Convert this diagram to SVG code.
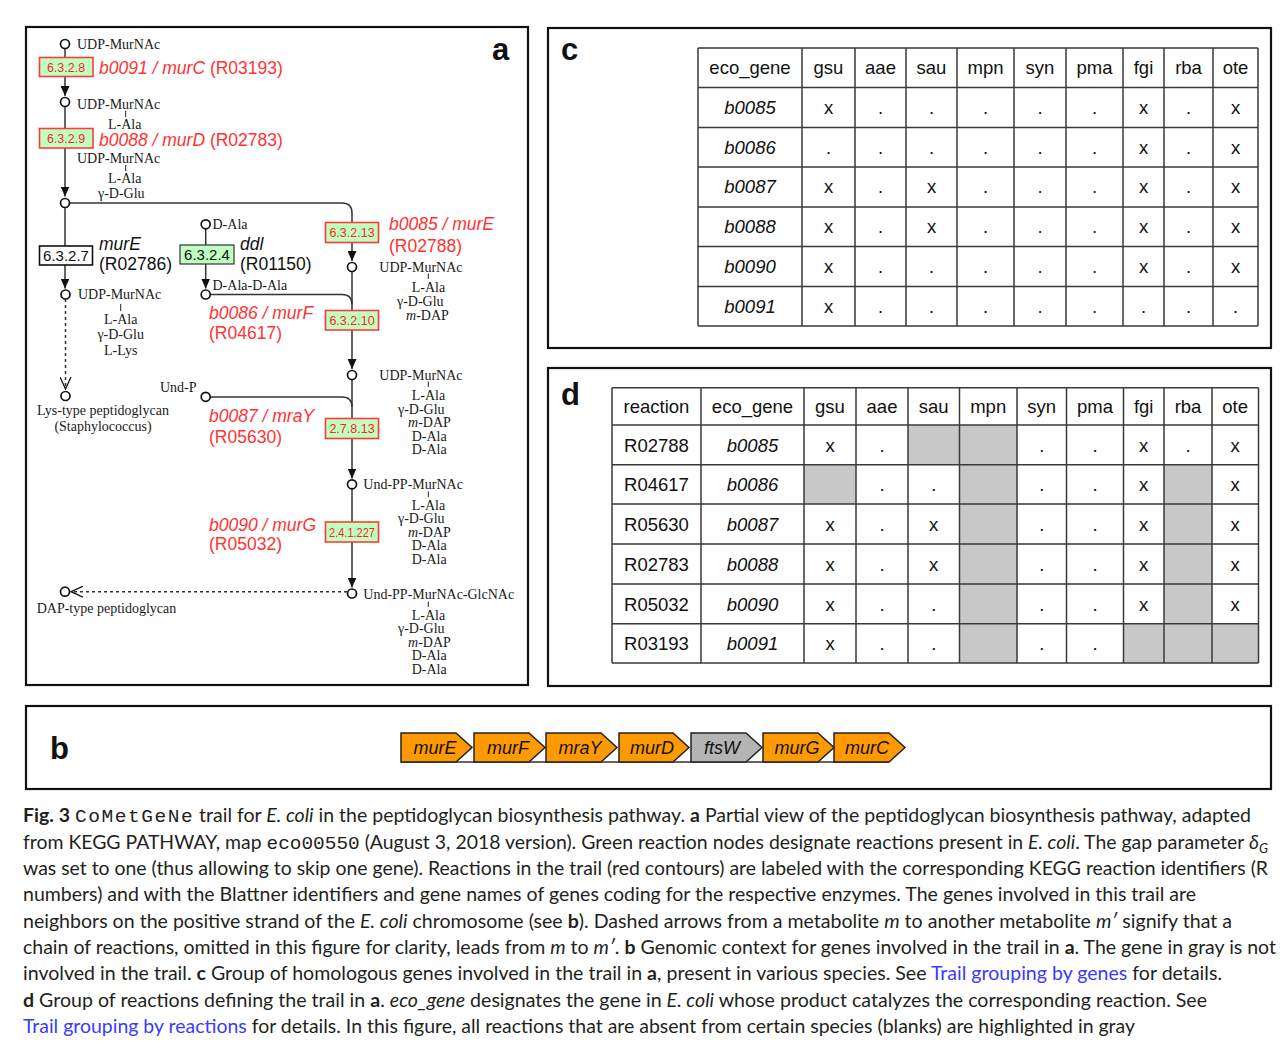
<svg xmlns="http://www.w3.org/2000/svg" width="1287" height="1050" viewBox="0 0 1287 1050">
<style>
.frame{fill:#fff;stroke:#111;stroke-width:2.2}
.met{font-family:"Liberation Serif","Times New Roman",serif;font-size:14px;fill:#1a1a1a}
.mc{text-anchor:middle}
.lbl{font-family:"Liberation Sans",Arial,sans-serif;font-size:17.5px}
.red{fill:#ff3333}
.blk{fill:#111}
.it{font-style:italic}
.ec{font-family:"Liberation Sans",Arial,sans-serif;font-size:12.5px;text-anchor:middle;fill:#ff2222}
.ecb{font-family:"Liberation Sans",Arial,sans-serif;font-size:15px;text-anchor:middle;fill:#111}
.rbox{fill:#bfffbf;stroke:#ff3b3b;stroke-width:1.6}
.gbox{fill:#bfffbf;stroke:#333;stroke-width:1.2}
.wbox{fill:#fff;stroke:#111;stroke-width:1.6}
.ln{fill:none;stroke:#333;stroke-width:1.5}
.dash{stroke-dasharray:3 3}
.circ{fill:#fff;stroke:#111;stroke-width:1.7}
.tick{stroke:#222;stroke-width:1}
.pl{font-family:"Liberation Sans",Arial,sans-serif;font-weight:bold;font-size:31px;fill:#111}
.tb{font-family:"Liberation Sans",Arial,sans-serif;font-size:18.5px;fill:#111;text-anchor:middle}
.grid{fill:none;stroke:#3a3a3a;stroke-width:1.5}
.gray{fill:#c8c8c8}
.gene{stroke:#222;stroke-width:1.5}
.gt{font-family:"Liberation Sans",Arial,sans-serif;font-size:18px;font-style:italic;fill:#111;text-anchor:middle}
.cap{font-family:Lato,"Open Sans",sans-serif;font-size:19px;fill:#231f20}
.mono{font-family:"Liberation Mono","Courier New",monospace}
.b{font-weight:bold}
.link{fill:#3a3aff}
</style>
<defs>
<marker id="fa" viewBox="0 0 10 9" refX="10" refY="4.5" markerWidth="10" markerHeight="9" markerUnits="userSpaceOnUse" orient="auto"><path d="M0,0 L10,4.5 L0,9 Z" fill="#111"/></marker>
<marker id="oa" viewBox="0 0 13 12" refX="12" refY="6" markerWidth="13" markerHeight="12" markerUnits="userSpaceOnUse" orient="auto"><path d="M0,0.5 L12,6 L0,11.5" fill="none" stroke="#111" stroke-width="1.3"/></marker>
</defs>
<rect width="1287" height="1050" fill="#fff"/>

<!-- panel frames -->
<rect class="frame" x="26" y="27" width="502" height="658"/>
<rect class="frame" x="548" y="28" width="723" height="320"/>
<rect class="frame" x="548" y="368" width="723" height="318"/>
<rect class="frame" x="26" y="706" width="1245" height="83"/>
<text class="pl" x="492" y="60">a</text>
<text class="pl" x="561" y="60">c</text>
<text class="pl" x="561" y="405">d</text>
<text class="pl" x="50" y="759">b</text>

<!-- connectors of panel a -->
<g id="connectors">
<path class="ln" d="M65,48.5 V96" marker-end="url(#fa)"/>
<path class="ln" d="M65,106.5 V196.5" marker-end="url(#fa)"/>
<path class="ln" d="M65,207.5 V288.5" marker-end="url(#fa)"/>
<path class="ln dash" d="M65.5,299 V389" marker-end="url(#oa)"/>
<path class="ln" d="M69.5,203 H342 Q352,203 352,213 V261" marker-end="url(#fa)"/>
<path class="ln" d="M205.7,229 V288.5" marker-end="url(#fa)"/>
<path class="ln" d="M210.2,294.5 H342 Q352,294.5 352,304.5"/>
<path class="ln" d="M352,271.5 V369" marker-end="url(#fa)"/>
<path class="ln" d="M210.2,397 H342 Q352,397 352,407"/>
<path class="ln" d="M352,379.5 V478.5" marker-end="url(#fa)"/>
<path class="ln" d="M352,489 V587.5" marker-end="url(#fa)"/>
<path class="ln dash" d="M347,591.7 H71" marker-end="url(#oa)"/>
</g>

<!-- reaction nodes -->
<g id="r-R03193">
<rect class="rbox" x="39.5" y="57.5" width="53.5" height="19"/>
<text class="ec" x="66" y="72">6.3.2.8</text>
<text class="lbl red" x="99" y="73.5"><tspan class="it">b0091 / murC</tspan> (R03193)</text>
</g>
<g id="r-R02783">
<rect class="rbox" x="39.5" y="128.5" width="53.5" height="19.5"/>
<text class="ec" x="66" y="143">6.3.2.9</text>
<text class="lbl red" x="99" y="146"><tspan class="it">b0088 / murD</tspan> (R02783)</text>
</g>
<g id="r-R02786">
<rect class="wbox" x="39.5" y="246" width="53" height="19"/>
<text class="ecb" x="66" y="261">6.3.2.7</text>
<text class="lbl blk it" x="99" y="250">murE</text>
<text class="lbl blk" x="99" y="270">(R02786)</text>
</g>
<g id="r-R01150">
<rect class="gbox" x="180" y="245" width="54" height="19"/>
<text class="ecb" x="207" y="260">6.3.2.4</text>
<text class="lbl blk it" x="240" y="250">ddl</text>
<text class="lbl blk" x="240" y="270">(R01150)</text>
</g>
<g id="r-R02788">
<rect class="rbox" x="325.5" y="222.5" width="53" height="20"/>
<text class="ec" x="352" y="237">6.3.2.13</text>
<text class="lbl red it" x="389" y="230">b0085 / murE</text>
<text class="lbl red" x="389" y="251.5">(R02788)</text>
</g>
<g id="r-R04617">
<rect class="rbox" x="325.5" y="310.5" width="53" height="19.5"/>
<text class="ec" x="352" y="325">6.3.2.10</text>
<text class="lbl red it" x="209" y="318.5">b0086 / murF</text>
<text class="lbl red" x="209" y="338.5">(R04617)</text>
</g>
<g id="r-R05630">
<rect class="rbox" x="325.5" y="418.5" width="53" height="20"/>
<text class="ec" x="352" y="433">2.7.8.13</text>
<text class="lbl red it" x="209" y="422">b0087 / mraY</text>
<text class="lbl red" x="209" y="443">(R05630)</text>
</g>
<g id="r-R05032">
<rect class="rbox" x="325.5" y="522" width="53" height="20"/>
<text class="ec" x="352" y="537" textLength="46" lengthAdjust="spacingAndGlyphs">2.4.1.227</text>
<text class="lbl red it" x="209" y="530.5">b0090 / murG</text>
<text class="lbl red" x="209" y="550">(R05032)</text>
</g>

<!-- metabolite nodes -->
<g id="m-udp-murnac">
<circle class="circ" cx="65" cy="44" r="4.5"/>
<text class="met" x="77" y="49">UDP-MurNAc</text>
</g>
<g id="m-udp-murnac-ala">
<circle class="circ" cx="65" cy="102" r="4.5"/>
<text class="met" x="77" y="109">UDP-MurNAc</text>
<line class="tick" x1="125.7" y1="111" x2="125.7" y2="117"/>
<text class="met" x="108" y="129">L-Ala</text>
</g>
<g id="m-udp-murnac-ala-glu">
<circle class="circ" cx="65" cy="203" r="4.5"/>
<text class="met" x="77" y="162.5">UDP-MurNAc</text>
<line class="tick" x1="125.7" y1="165" x2="125.7" y2="171"/>
<text class="met" x="108" y="183">L-Ala</text>
<text class="met" x="98" y="197.5">γ-D-Glu</text>
</g>
<g id="m-udp-murnac-lys">
<circle class="circ" cx="65.5" cy="294.5" r="4.5"/>
<text class="met" x="78" y="299">UDP-MurNAc</text>
<line class="tick" x1="120.7" y1="304" x2="120.7" y2="311"/>
<text class="met mc" x="120.7" y="323.5">L-Ala</text>
<text class="met mc" x="120.7" y="339">γ-D-Glu</text>
<text class="met mc" x="120.7" y="355">L-Lys</text>
</g>
<g id="m-lys-pg">
<circle class="circ" cx="65.5" cy="396" r="4.5"/>
<text class="met mc" x="103" y="415">Lys-type peptidoglycan</text>
<text class="met mc" x="103" y="430.5">(Staphylococcus)</text>
</g>
<g id="m-d-ala">
<circle class="circ" cx="205.7" cy="224.3" r="4.5"/>
<text class="met" x="212.5" y="228.5">D-Ala</text>
</g>
<g id="m-d-ala-d-ala">
<circle class="circ" cx="205.7" cy="294.5" r="4.5"/>
<text class="met" x="212.5" y="289.5">D-Ala-D-Ala</text>
</g>
<g id="m-udp-murnac-dap">
<circle class="circ" cx="352" cy="267" r="4.5"/>
<text class="met" x="379.3" y="271.7">UDP-MurNAc</text>
<line class="tick" x1="428.3" y1="273.5" x2="428.3" y2="279"/>
<text class="met" x="411.7" y="291.5">L-Ala</text>
<text class="met" x="397" y="305.5">γ-D-Glu</text>
<text class="met" x="406" y="319.5"><tspan class="it">m</tspan>-DAP</text>
</g>
<g id="m-udp-murnac-pentapeptide">
<circle class="circ" cx="352" cy="375" r="4.5"/>
<text class="met" x="379.3" y="379.5">UDP-MurNAc</text>
<line class="tick" x1="428.3" y1="381.5" x2="428.3" y2="387"/>
<text class="met" x="411.7" y="400">L-Ala</text>
<text class="met" x="398" y="413.5">γ-D-Glu</text>
<text class="met" x="408" y="427"><tspan class="it">m</tspan>-DAP</text>
<text class="met" x="411.7" y="440.5">D-Ala</text>
<text class="met" x="411.7" y="454">D-Ala</text>
</g>
<g id="m-und-p">
<circle class="circ" cx="205.7" cy="396.8" r="4.5"/>
<text class="met" x="160" y="392.3">Und-P</text>
</g>
<g id="m-und-pp-murnac">
<circle class="circ" cx="352" cy="484.3" r="4.5"/>
<text class="met" x="363.3" y="489.3">Und-PP-MurNAc</text>
<line class="tick" x1="428.3" y1="491.5" x2="428.3" y2="497"/>
<text class="met" x="411.7" y="509.5">L-Ala</text>
<text class="met" x="398" y="523">γ-D-Glu</text>
<text class="met" x="408" y="536.5"><tspan class="it">m</tspan>-DAP</text>
<text class="met" x="411.7" y="550">D-Ala</text>
<text class="met" x="411.7" y="563.5">D-Ala</text>
</g>
<g id="m-und-pp-murnac-glcnac">
<circle class="circ" cx="352" cy="593.5" r="4.5"/>
<text class="met" x="363.3" y="599.3">Und-PP-MurNAc-GlcNAc</text>
<line class="tick" x1="428.3" y1="601.5" x2="428.3" y2="607"/>
<text class="met" x="411.7" y="619.5">L-Ala</text>
<text class="met" x="398" y="633">γ-D-Glu</text>
<text class="met" x="408" y="646.5"><tspan class="it">m</tspan>-DAP</text>
<text class="met" x="411.7" y="660">D-Ala</text>
<text class="met" x="411.7" y="673.5">D-Ala</text>
</g>
<g id="m-dap-pg">
<circle class="circ" cx="65" cy="591.7" r="4.5"/>
<text class="met" x="36.7" y="613.3">DAP-type peptidoglycan</text>
</g>

<!-- panel c table -->
<g id="table-c">
<path class="grid" d="M698,48 H1258 M698,87.5 H1258 M698,127.5 H1258 M698,167 H1258 M698,207 H1258 M698,246.5 H1258 M698,286.5 H1258 M698,326 H1258 M698,48 V326 M802,48 V326 M855,48 V326 M906,48 V326 M957,48 V326 M1014,48 V326 M1066,48 V326 M1123,48 V326 M1164,48 V326 M1213,48 V326 M1258,48 V326"/>
<g class="tb">
<text x="750" y="74">eco_gene</text><text x="828.5" y="74">gsu</text><text x="880.5" y="74">aae</text><text x="931.5" y="74">sau</text><text x="985.5" y="74">mpn</text><text x="1040" y="74">syn</text><text x="1094.5" y="74">pma</text><text x="1143.5" y="74">fgi</text><text x="1188.5" y="74">rba</text><text x="1235.5" y="74">ote</text>
<text x="750" y="114" class="it">b0085</text><text x="828.5" y="114">x</text><text x="880.5" y="114">.</text><text x="931.5" y="114">.</text><text x="985.5" y="114">.</text><text x="1040" y="114">.</text><text x="1094.5" y="114">.</text><text x="1143.5" y="114">x</text><text x="1188.5" y="114">.</text><text x="1235.5" y="114">x</text>
<text x="750" y="153.5" class="it">b0086</text><text x="828.5" y="153.5">.</text><text x="880.5" y="153.5">.</text><text x="931.5" y="153.5">.</text><text x="985.5" y="153.5">.</text><text x="1040" y="153.5">.</text><text x="1094.5" y="153.5">.</text><text x="1143.5" y="153.5">x</text><text x="1188.5" y="153.5">.</text><text x="1235.5" y="153.5">x</text>
<text x="750" y="193" class="it">b0087</text><text x="828.5" y="193">x</text><text x="880.5" y="193">.</text><text x="931.5" y="193">x</text><text x="985.5" y="193">.</text><text x="1040" y="193">.</text><text x="1094.5" y="193">.</text><text x="1143.5" y="193">x</text><text x="1188.5" y="193">.</text><text x="1235.5" y="193">x</text>
<text x="750" y="233" class="it">b0088</text><text x="828.5" y="233">x</text><text x="880.5" y="233">.</text><text x="931.5" y="233">x</text><text x="985.5" y="233">.</text><text x="1040" y="233">.</text><text x="1094.5" y="233">.</text><text x="1143.5" y="233">x</text><text x="1188.5" y="233">.</text><text x="1235.5" y="233">x</text>
<text x="750" y="272.5" class="it">b0090</text><text x="828.5" y="272.5">x</text><text x="880.5" y="272.5">.</text><text x="931.5" y="272.5">.</text><text x="985.5" y="272.5">.</text><text x="1040" y="272.5">.</text><text x="1094.5" y="272.5">.</text><text x="1143.5" y="272.5">x</text><text x="1188.5" y="272.5">.</text><text x="1235.5" y="272.5">x</text>
<text x="750" y="312.5" class="it">b0091</text><text x="828.5" y="312.5">x</text><text x="880.5" y="312.5">.</text><text x="931.5" y="312.5">.</text><text x="985.5" y="312.5">.</text><text x="1040" y="312.5">.</text><text x="1094.5" y="312.5">.</text><text x="1143.5" y="312.5">.</text><text x="1188.5" y="312.5">.</text><text x="1235.5" y="312.5">.</text>
</g>
</g>

<!-- panel d table -->
<g id="table-d">
<rect class="gray" x="908" y="425" width="109" height="39.7"/>
<rect class="gray" x="804" y="464.7" width="52" height="39.3"/>
<rect class="gray" x="959.5" y="464.7" width="57.5" height="198.3"/>
<rect class="gray" x="1164" y="464.7" width="48" height="198.3"/>
<rect class="gray" x="1123.5" y="623.7" width="135" height="39.3"/>
<path class="grid" d="M612,387.7 H1258.5 M612,425 H1258.5 M612,464.7 H1258.5 M612,504 H1258.5 M612,544 H1258.5 M612,584 H1258.5 M612,623.7 H1258.5 M612,663 H1258.5 M612,387.7 V663 M701,387.7 V663 M804,387.7 V663 M856,387.7 V663 M908,387.7 V663 M959.5,387.7 V663 M1017,387.7 V663 M1066.5,387.7 V663 M1123.5,387.7 V663 M1164,387.7 V663 M1212,387.7 V663 M1258.5,387.7 V663"/>
<g class="tb">
<text x="656.5" y="412.5">reaction</text><text x="752.5" y="412.5">eco_gene</text><text x="830" y="412.5">gsu</text><text x="882" y="412.5">aae</text><text x="933.7" y="412.5">sau</text><text x="988.2" y="412.5">mpn</text><text x="1041.7" y="412.5">syn</text><text x="1095" y="412.5">pma</text><text x="1143.7" y="412.5">fgi</text><text x="1188" y="412.5">rba</text><text x="1235.2" y="412.5">ote</text>
<text x="656.5" y="451.5">R02788</text><text x="752.5" y="451.5" class="it">b0085</text><text x="830" y="451.5">x</text><text x="882" y="451.5">.</text><text x="1041.7" y="451.5">.</text><text x="1095" y="451.5">.</text><text x="1143.7" y="451.5">x</text><text x="1188" y="451.5">.</text><text x="1235.2" y="451.5">x</text>
<text x="656.5" y="491">R04617</text><text x="752.5" y="491" class="it">b0086</text><text x="882" y="491">.</text><text x="933.7" y="491">.</text><text x="1041.7" y="491">.</text><text x="1095" y="491">.</text><text x="1143.7" y="491">x</text><text x="1235.2" y="491">x</text>
<text x="656.5" y="530.5">R05630</text><text x="752.5" y="530.5" class="it">b0087</text><text x="830" y="530.5">x</text><text x="882" y="530.5">.</text><text x="933.7" y="530.5">x</text><text x="1041.7" y="530.5">.</text><text x="1095" y="530.5">.</text><text x="1143.7" y="530.5">x</text><text x="1235.2" y="530.5">x</text>
<text x="656.5" y="570.5">R02783</text><text x="752.5" y="570.5" class="it">b0088</text><text x="830" y="570.5">x</text><text x="882" y="570.5">.</text><text x="933.7" y="570.5">x</text><text x="1041.7" y="570.5">.</text><text x="1095" y="570.5">.</text><text x="1143.7" y="570.5">x</text><text x="1235.2" y="570.5">x</text>
<text x="656.5" y="610.5">R05032</text><text x="752.5" y="610.5" class="it">b0090</text><text x="830" y="610.5">x</text><text x="882" y="610.5">.</text><text x="933.7" y="610.5">.</text><text x="1041.7" y="610.5">.</text><text x="1095" y="610.5">.</text><text x="1143.7" y="610.5">x</text><text x="1235.2" y="610.5">x</text>
<text x="656.5" y="650">R03193</text><text x="752.5" y="650" class="it">b0091</text><text x="830" y="650">x</text><text x="882" y="650">.</text><text x="933.7" y="650">.</text><text x="1041.7" y="650">.</text><text x="1095" y="650">.</text>
</g>
</g>

<!-- panel b genes -->
<g id="genes">
<line x1="401" y1="762" x2="889" y2="762" stroke="#333" stroke-width="1.5"/>
<g id="g-murE"><path class="gene" fill="#ff9900" d="M401,733 H456 L472,747.5 L456,762 H401 Z"/><text class="gt" x="435" y="754">murE</text></g>
<g id="g-murF"><path class="gene" fill="#ff9900" d="M474,733 H529 L545,747.5 L529,762 H474 Z"/><text class="gt" x="508" y="754">murF</text></g>
<g id="g-mraY"><path class="gene" fill="#ff9900" d="M546,733 H601 L617,747.5 L601,762 H546 Z"/><text class="gt" x="580" y="754">mraY</text></g>
<g id="g-murD"><path class="gene" fill="#ff9900" d="M619,733 H673 L689,747.5 L673,762 H619 Z"/><text class="gt" x="652" y="754">murD</text></g>
<g id="g-ftsW"><path class="gene" fill="#b4b4b4" d="M691,733 H746 L762,747.5 L746,762 H691 Z"/><text class="gt" x="722" y="754">ftsW</text></g>
<g id="g-murG"><path class="gene" fill="#ff9900" d="M763,733 H818 L834,747.5 L818,762 H763 Z"/><text class="gt" x="797" y="754">murG</text></g>
<g id="g-murC"><path class="gene" fill="#ff9900" d="M834,733 H889 L905,747.5 L889,762 H834 Z"/><text class="gt" x="867" y="754">murC</text></g>
</g>

<!-- caption -->
<g id="caption" class="cap">
<text x="23" y="822" textLength="1228" lengthAdjust="spacingAndGlyphs"><tspan class="b">Fig. 3</tspan> <tspan class="mono" letter-spacing="1.5">CoMetGeNe</tspan> trail for <tspan class="it">E. coli</tspan> in the peptidoglycan biosynthesis pathway. <tspan class="b">a</tspan> Partial view of the peptidoglycan biosynthesis pathway, adapted</text>
<text x="23" y="848.5" textLength="1245" lengthAdjust="spacingAndGlyphs">from KEGG PATHWAY, map <tspan class="mono">eco00550</tspan> (August 3, 2018 version). Green reaction nodes designate reactions present in <tspan class="it">E. coli</tspan>. The gap parameter <tspan class="it">δ</tspan><tspan class="it" font-size="13" dy="4">G</tspan></text>
<text x="23" y="875" textLength="1245" lengthAdjust="spacingAndGlyphs">was set to one (thus allowing to skip one gene). Reactions in the trail (red contours) are labeled with the corresponding KEGG reaction identifiers (R</text>
<text x="23" y="901" textLength="1173" lengthAdjust="spacingAndGlyphs">numbers) and with the Blattner identifiers and gene names of genes coding for the respective enzymes. The genes involved in this trail are</text>
<text x="23" y="927.5" textLength="1209" lengthAdjust="spacingAndGlyphs">neighbors on the positive strand of the <tspan class="it">E. coli</tspan> chromosome (see <tspan class="b">b</tspan>). Dashed arrows from a metabolite <tspan class="it">m</tspan> to another metabolite <tspan class="it">m′</tspan> signify that a</text>
<text x="23" y="954" textLength="1253" lengthAdjust="spacingAndGlyphs">chain of reactions, omitted in this figure for clarity, leads from <tspan class="it">m</tspan> to <tspan class="it">m′</tspan>. <tspan class="b">b</tspan> Genomic context for genes involved in the trail in <tspan class="b">a</tspan>. The gene in gray is not</text>
<text x="23" y="980" textLength="1199" lengthAdjust="spacingAndGlyphs">involved in the trail. <tspan class="b">c</tspan> Group of homologous genes involved in the trail in <tspan class="b">a</tspan>, present in various species. See <tspan class="link">Trail grouping by genes</tspan> for details.</text>
<text x="23" y="1006.5" textLength="1184" lengthAdjust="spacingAndGlyphs"><tspan class="b">d</tspan> Group of reactions defining the trail in <tspan class="b">a</tspan>. <tspan class="it">eco_gene</tspan> designates the gene in <tspan class="it">E. coli</tspan> whose product catalyzes the corresponding reaction. See</text>
<text x="23" y="1033" textLength="1112" lengthAdjust="spacingAndGlyphs"><tspan class="link">Trail grouping by reactions</tspan> for details. In this figure, all reactions that are absent from certain species (blanks) are highlighted in gray</text>
</g>
</svg>
